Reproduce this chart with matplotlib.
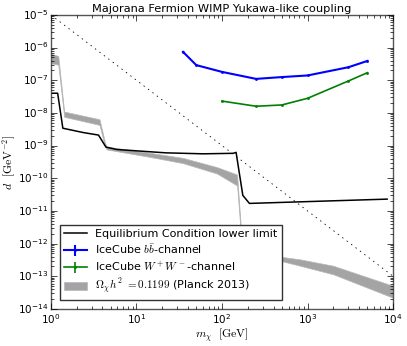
import matplotlib
matplotlib.use("Agg")
import matplotlib.pyplot as plt

# ---------------- data ----------------
# equilibrium condition lower limit (black)
m_eq = [1, 1.2, 1.38, 2.4, 3.6, 4.4, 5.9, 22, 60, 135, 146, 175, 209, 8500]
d_eq = [4e-8, 4e-8, 3.4e-9, 2.5e-9, 2.1e-9, 9e-10, 7.6e-10, 6e-10, 5.6e-10,
        5.8e-10, 6.2e-10, 3e-11, 1.7e-11, 2.3e-11]

# IceCube b bbar channel (blue)
m_bb = [35, 50, 100, 250, 500, 1000, 3000, 5000]
d_bb = [7.4e-7, 2.9e-7, 1.8e-7, 1.1e-7, 1.25e-7, 1.4e-7, 2.5e-7, 3.9e-7]

# IceCube W+W- channel (green)
m_ww = [100, 250, 500, 1000, 3000, 5000]
d_ww = [2.3e-8, 1.6e-8, 1.75e-8, 2.8e-8, 9.5e-8, 1.7e-7]

# relic density band (Planck 2013)
m_band = [1, 1.22, 1.43, 3.7, 4.3, 4.5, 14.4, 35, 87, 150, 175, 475, 820, 2000, 10000]
d_band_hi = [6.5e-7, 5.5e-7, 1.1e-8, 6.4e-9, 1.2e-9, 9.3e-10, 6e-10, 4.2e-10,
             2.2e-10, 1.3e-10, 4.5e-13, 4e-13, 3.3e-13, 2.1e-13, 5.1e-14]
d_band_lo = [3.3e-7, 3e-7, 7.6e-9, 4.3e-9, 9e-10, 7.6e-10, 4.5e-10, 2.9e-10,
             1.4e-10, 6e-11, 3.2e-13, 3e-13, 2.1e-13, 1.15e-13, 2.2e-14]

# dotted reference line
m_dot = [1, 1e4]
d_dot = [1e-5, 1e-13]

# ---------------- style ----------------
plt.style.use("classic")
plt.rcParams["figure.facecolor"] = "white"
plt.rcParams["savefig.facecolor"] = "white"
plt.rcParams["mathtext.fontset"] = "cm"
plt.rcParams["font.family"] = ["DejaVu Sans"]

fig = plt.figure(figsize=(4.07, 3.46), dpi=100)
ax = fig.add_axes([0.125, 0.107, 0.841, 0.85])

ax.fill_between(m_band, d_band_lo, d_band_hi, facecolor="#a4a4a4",
                edgecolor="#b8b8b8", linewidth=0.5,
                label=r"$\Omega_\chi h^2$ $=0.1199$ (Planck 2013)")
ax.plot(m_dot, d_dot, color="black", linestyle=":", linewidth=0.6)
ax.plot(m_eq, d_eq, color="black", linewidth=1.1,
        label="Equilibrium Condition lower limit")
ax.errorbar(m_bb, d_bb, yerr=[0] * len(d_bb), color="blue", linewidth=1.5,
            marker=".", markersize=3, capsize=0,
            label=r"IceCube $b\bar{b}$-channel")
ax.errorbar(m_ww, d_ww, yerr=[0] * len(d_ww), color="green", linewidth=1.2,
            marker=".", markersize=3, capsize=0,
            label=r"IceCube $W^+W^-$-channel")

ax.set_xscale("log")
ax.set_yscale("log")
ax.set_xlim(1, 1e4)
ax.set_ylim(1e-14, 1e-5)
ax.set_title("Majorana Fermion WIMP Yukawa-like coupling", fontsize=8.2, pad=2)
ax.set_xlabel(r"$m_\chi\ \ [\mathrm{GeV}]$", fontsize=8.5)
ax.set_ylabel(r"$d\ \ [\mathrm{GeV}^{-2}]$", fontsize=8.5)
ax.xaxis.set_label_coords(0.5, -0.06)
ax.yaxis.set_label_coords(-0.097, 0.5)
ax.tick_params(labelsize=7.5, which="major", length=4, pad=2)
ax.tick_params(which="minor", length=2)
for s in ax.spines.values():
    s.set_color("#555555")

h, l = ax.get_legend_handles_labels()
order = [1, 2, 3, 0]
leg = ax.legend([h[i] for i in order], [l[i] for i in order], loc="lower left",
                fontsize=8, numpoints=1, handlelength=2.0, borderpad=0.4,
                labelspacing=0.3, fancybox=False, bbox_to_anchor=(0.01, 0.01))
leg.get_frame().set_edgecolor("#333333")

fig.savefig("out.png", dpi=100)
